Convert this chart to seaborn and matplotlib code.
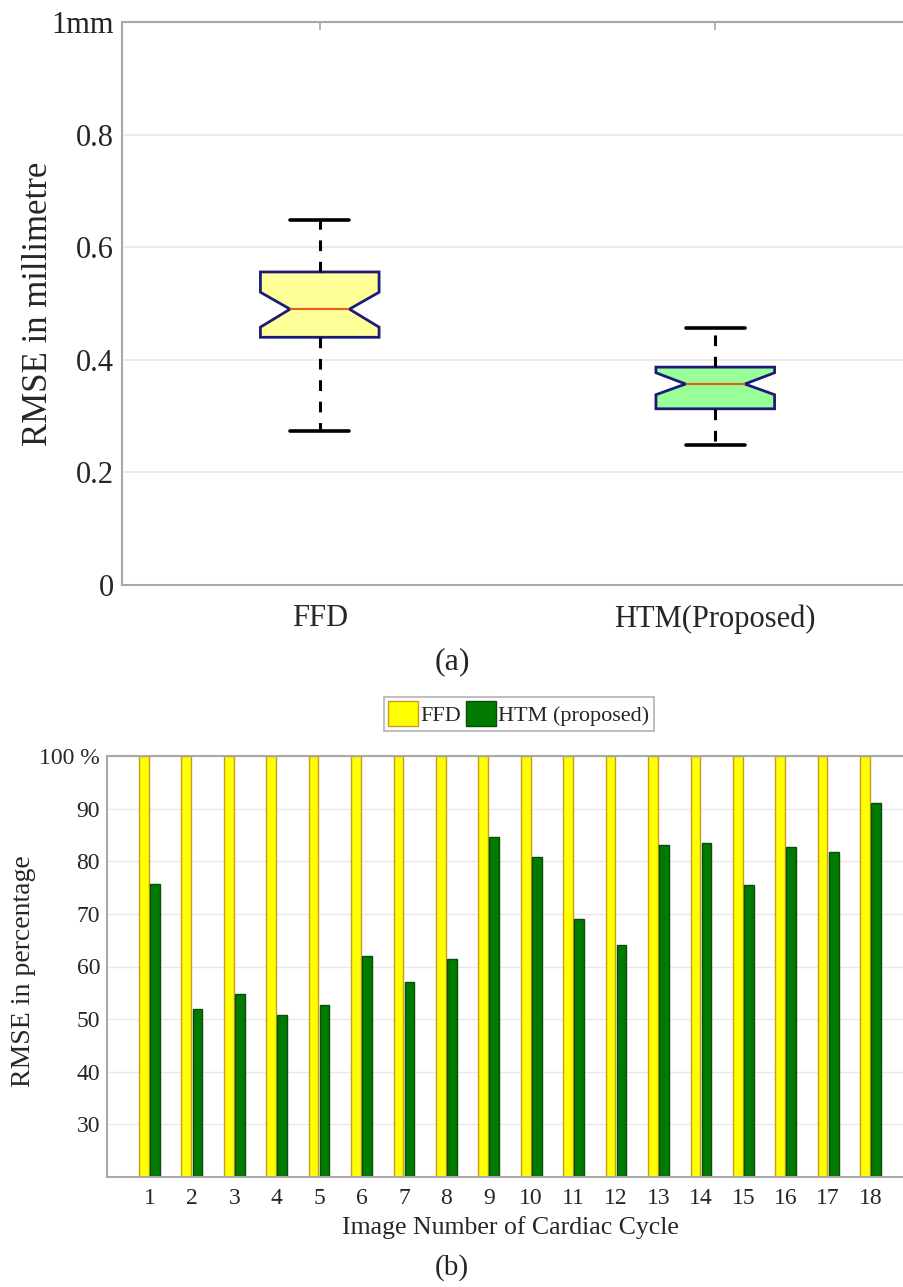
import matplotlib
matplotlib.use("Agg")
import matplotlib.pyplot as plt
from matplotlib.patches import Patch
import seaborn as sns
import pandas as pd

# ---- (a) box statistics of RMSE (mm) ----
methods_a = ["FFD", "HTM(Proposed)"]
box_whislo = [0.274, 0.249]
box_q1 = [0.440, 0.313]
box_cilo = [0.458, 0.338]
box_med = [0.490, 0.357]
box_cihi = [0.520, 0.377]
box_q3 = [0.556, 0.387]
box_whishi = [0.648, 0.456]
box_fill = ["#ffff99", "#99ff99"]
ytick_vals_a = [0, 0.2, 0.4, 0.6, 0.8, 1.0]
ytick_text_a = ["0", "0.2", "0.4", "0.6", "0.8", "1mm"]

# ---- (b) RMSE per image of the cardiac cycle (%) ----
image_numbers = [str(i) for i in range(1, 19)]
ffd_pct = [100] * 18
htm_pct = [75.7, 52.0, 54.8, 50.8, 52.6, 62.0, 57.0, 61.5, 84.7,
           80.9, 69.0, 64.0, 83.0, 83.5, 75.5, 82.8, 81.8, 91.1]
series_names = ["FFD", "HTM (proposed)"]
ytick_vals_b = [30, 40, 50, 60, 70, 80, 90, 100]
ytick_text_b = ["30", "40", "50", "60", "70", "80", "90", "100 %"]

sns.set_style("white")
plt.rcParams["font.family"] = ["Liberation Serif", "DejaVu Serif"]
plt.rcParams["mathtext.fontset"] = "stix"

W, H = 904, 1287
fig = plt.figure(figsize=(W / 100, H / 100), dpi=100)

spine_col = "#a8a8a8"
grid_col = "#e8e8e8"


def px_axes(left, top, right, bottom):
    return fig.add_axes([left / W, 1 - bottom / H, (right - left) / W, (bottom - top) / H])


# ================= (a) notched box plot =================
ax1 = px_axes(122, 22, 913, 585)
stats = []
for i, name in enumerate(methods_a):
    stats.append(dict(label=name, med=box_med[i], q1=box_q1[i], q3=box_q3[i],
                      cilo=box_cilo[i], cihi=box_cihi[i],
                      whislo=box_whislo[i], whishi=box_whishi[i], fliers=[]))
bp = ax1.bxp(stats, positions=[1, 2], widths=0.30, capwidths=0.15, shownotches=True,
             patch_artist=True, showfliers=False,
             boxprops=dict(edgecolor="#1c1c78", linewidth=2.0),
             whiskerprops=dict(color="black", linewidth=2.2, linestyle=(0, (3.5, 3.5))),
             capprops=dict(color="black", linewidth=2.6),
             medianprops=dict(color="#e0601a", linewidth=1.6))
for patch, col in zip(bp["boxes"], box_fill):
    patch.set_facecolor(col)

ax1.set_xlim(0.5, 2.5)
ax1.set_ylim(0, 1)
ax1.set_xticks([1, 2])
ax1.set_xticklabels(methods_a, fontsize=22)
ax1.set_yticks(ytick_vals_a)
ax1.set_yticklabels(ytick_text_a, fontsize=22)
ax1.yaxis.grid(True, color=grid_col, linewidth=1.2)
ax1.set_axisbelow(True)
ax1.tick_params(axis="both", direction="in", length=6, width=1.2, color=spine_col,
                top=True, right=True)
ax1.tick_params(axis="x", pad=14)
ax1.tick_params(axis="y", pad=6)
for s in ax1.spines.values():
    s.set_color(spine_col)
    s.set_linewidth(1.5)
ax1.set_ylabel("RMSE in millimetre", fontsize=25)
ax1.yaxis.set_label_coords(-0.085, 0.5)

fig.text(452 / W, 1 - 662 / H, "(a)", fontsize=23, ha="center", va="center")

# ================= (b) grouped bars =================
ax2 = px_axes(107, 756, 913, 1177)
df = pd.DataFrame({
    "Image": image_numbers * 2,
    "RMSE": ffd_pct + htm_pct,
    "Method": [series_names[0]] * len(image_numbers) + [series_names[1]] * len(image_numbers),
})
palette = {series_names[0]: "#ffff00", series_names[1]: "#007a00"}
edges = {series_names[0]: "#c89a1e", series_names[1]: "#0a4d0a"}
sns.barplot(data=df, x="Image", y="RMSE", hue="Method", order=image_numbers,
            hue_order=series_names, palette=palette, width=0.52, gap=0.12,
            linewidth=1.0, saturation=1, ax=ax2, legend=False)
n = len(image_numbers)
for k, bar in enumerate(ax2.patches[:2 * n]):
    bar.set_edgecolor(edges[series_names[k // n]])

ax2.set_xlim(-1, n)
ax2.set_ylim(20, 100)
ax2.set_yticks(ytick_vals_b)
ax2.set_yticklabels(ytick_text_b, fontsize=17)
ax2.set_xticks(range(n))
ax2.set_xticklabels(image_numbers, fontsize=17)
ax2.yaxis.grid(True, color=grid_col, linewidth=1.0)
ax2.set_axisbelow(True)
ax2.tick_params(axis="both", direction="in", length=5, width=1.0, color=spine_col,
                top=True, right=True)
ax2.tick_params(axis="x", pad=8, length=0)
ax2.tick_params(axis="y", pad=5)
for s in ax2.spines.values():
    s.set_color(spine_col)
    s.set_linewidth(1.5)
ax2.set_xlabel("Image Number of Cardiac Cycle", fontsize=18.5, labelpad=5)
ax2.set_ylabel("RMSE in percentage", fontsize=20)
ax2.yaxis.set_label_coords(-0.088, 0.49)

handles = [Patch(facecolor=palette[s], edgecolor=edges[s], linewidth=1.0) for s in series_names]
leg = ax2.legend(handles, series_names, loc="center", bbox_to_anchor=(0.511, 1.10),
                 ncol=2, fontsize=16, frameon=True, fancybox=False,
                 handlelength=1.35, handleheight=1.35, handletextpad=0.1,
                 columnspacing=0.2, borderpad=0.2, borderaxespad=0)
leg.get_frame().set_edgecolor("#a0a0a0")
leg.get_frame().set_linewidth(1.2)

fig.text(452 / W, 1 - 1268 / H, "(b)", fontsize=21, ha="center", va="center")

fig.savefig("out.png", dpi=100)
